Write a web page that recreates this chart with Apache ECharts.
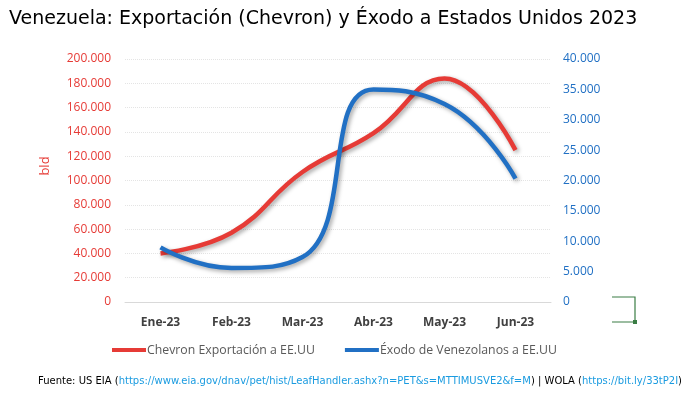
<!DOCTYPE html>
<html><head><meta charset="utf-8">
<script src="https://cdn.jsdelivr.net/npm/echarts@6/dist/echarts.min.js"></script>
<style>html,body{margin:0;padding:0;background:#fff}#c{width:690px;height:399px}</style>
</head><body><div id="c"></div>
<script>
const categories = ['Ene-23','Feb-23','Mar-23','Abr-23','May-23','Jun-23'];
const chevron = [40000, 57000, 107000, 139000, 184000, 125000];
const exodo = [9000, 5600, 7400, 35000, 32600, 20300];
const fmt = v => v === 0 ? '0' : (v/1000).toFixed(0) + '.000';
const FONT = '"Open Sans", "Liberation Sans", sans-serif';
const RED = '#e63b36', BLUE = '#2170c4';
const chart = echarts.init(document.getElementById('c'));
chart.setOption({
  animation:false,
  title:{text:'Venezuela: Exportación (Chevron) y Éxodo a Estados Unidos 2023', left:4, top:5,
    textStyle:{fontFamily:'"DejaVu Sans", sans-serif', fontSize:19, fontWeight:'normal', color:'#000'}},
  grid:{left:125, right:139, top:59, bottom:97},
  legend:{bottom:38, left:107, itemWidth:34, itemHeight:4, itemGap:30, icon:'rect',
    textStyle:{fontFamily:FONT, fontSize:12.3, color:'#595959', padding:[0,0,0,-4]},
    data:['Chevron Exportación a EE.UU','Éxodo de Venezolanos a EE.UU']},
  xAxis:{type:'category', data:categories, boundaryGap:true,
    axisLine:{lineStyle:{color:'#d9d9d9'}}, axisTick:{length:5, lineStyle:{color:'#d9d9d9'}},
    axisLabel:{fontFamily:FONT, fontSize:12, color:'#404040', fontWeight:'bold', margin:15}},
  yAxis:[
    {type:'value', min:0, max:200000, interval:20000,
      axisLabel:{formatter:fmt, color:RED, fontFamily:FONT, fontSize:12, margin:14},
      splitLine:{lineStyle:{color:'#e4e4e4', type:'dotted'}}, axisLine:{show:false}, axisTick:{show:false}},
    {type:'value', min:0, max:40000, interval:5000, position:'right',
      axisLabel:{formatter:fmt, color:BLUE, fontFamily:FONT, fontSize:12, margin:12},
      splitLine:{show:false}, axisLine:{show:false}, axisTick:{show:false}}
  ],
  series:[
    {name:'Chevron Exportación a EE.UU', type:'line', yAxisIndex:0, data:chevron, smooth:0.45, symbol:'none',
      itemStyle:{color:RED},
      lineStyle:{width:4.5, color:RED, shadowColor:'rgba(0,0,0,0.35)', shadowBlur:4, shadowOffsetX:2, shadowOffsetY:2}},
    {name:'Éxodo de Venezolanos a EE.UU', type:'line', yAxisIndex:1, data:exodo, smooth:0.5, symbol:'none',
      itemStyle:{color:BLUE},
      lineStyle:{width:4.5, color:BLUE, shadowColor:'rgba(0,0,0,0.35)', shadowBlur:4, shadowOffsetX:2, shadowOffsetY:2}}
  ],
  graphic:[
    {type:'text', x:45, y:166, rotation:Math.PI/2, style:{text:'bld', fill:RED, fontFamily:FONT, fontSize:13, align:'center', verticalAlign:'middle'}},
    {type:'text', left:38, top:376, style:{
      text:'{b|Fuente: US EIA (}{u|https://www.eia.gov/dnav/pet/hist/LeafHandler.ashx?n=PET&s=MTTIMUSVE2&f=M}{b|) | WOLA (}{u|https://bit.ly/33tP2I}{b|)}',
      rich:{b:{fill:'#000', fontFamily:'"DejaVu Sans", sans-serif', fontSize:10},
            u:{fill:'#1a9be0', fontFamily:'"DejaVu Sans", sans-serif', fontSize:10}}}},
    {type:'polyline', shape:{points:[[612,297],[635,297],[635,322],[612,322]]}, style:{stroke:'#3a7d44', lineWidth:1.2, fill:null}},
    {type:'rect', shape:{x:633, y:320, width:4, height:4}, style:{fill:'#3a7d44'}}
  ]
});
</script></body></html>
